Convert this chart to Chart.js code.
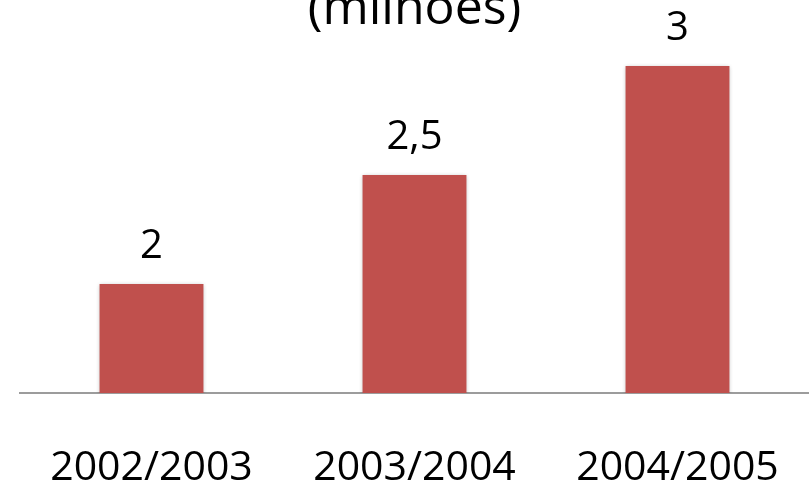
<!DOCTYPE html>
<html>
<head>
<meta charset="utf-8">
<script src="https://cdn.jsdelivr.net/npm/chart.js@4/dist/chart.umd.min.js"></script>
<style>
  html, body { margin: 0; padding: 0; background: #ffffff; overflow: hidden; }
  #wrap { position: absolute; left: 0; top: -40px; width: 809px; height: 530px; }
</style>
</head>
<body>
<div id="wrap"><canvas id="chart" width="809" height="530"></canvas></div>
<script>
// Safras e valores (em milhões)
const categories = ['2002/2003', '2003/2004', '2004/2005'];
const values = [2, 2.5, 3];
const titleText = '(milhões)';

const FONT = "'Open Sans', 'DejaVu Sans', sans-serif";

// Rótulos de valor acima de cada barra, com vírgula decimal
const valueLabels = {
  id: 'valueLabels',
  afterDatasetsDraw(chart) {
    const ctx = chart.ctx;
    const meta = chart.getDatasetMeta(0);
    ctx.save();
    ctx.font = '40px ' + FONT;
    ctx.fillStyle = '#000000';
    ctx.textAlign = 'center';
    ctx.textBaseline = 'alphabetic';
    meta.data.forEach((bar, i) => {
      const txt = String(values[i]).replace('.', ',');
      ctx.fillText(txt, bar.x, bar.y - 26);
    });
    ctx.restore();
  }
};

// Sombra suave sob as barras
const barShadow = {
  id: 'barShadow',
  beforeDatasetsDraw(chart) {
    const ctx = chart.ctx;
    ctx.save();
    ctx.shadowColor = 'rgba(0,0,0,0.28)';
    ctx.shadowBlur = 4;
    ctx.shadowOffsetX = 0;
    ctx.shadowOffsetY = 1;
  },
  afterDatasetsDraw(chart) {
    chart.ctx.restore();
  }
};

new Chart(document.getElementById('chart'), {
  type: 'bar',
  data: {
    labels: categories,
    datasets: [{
      data: values,
      backgroundColor: '#C0504D',
      borderWidth: 0,
      categoryPercentage: 1,
      barPercentage: 0.395
    }]
  },
  options: {
    responsive: false,
    animation: false,
    layout: { padding: { left: 20, right: 0, top: 0, bottom: 0 } },
    plugins: {
      legend: { display: false },
      tooltip: { enabled: false },
      title: {
        display: true,
        text: titleText,
        color: '#000000',
        font: { family: FONT, size: 50, weight: 'normal', lineHeight: 1 },
        padding: { top: 25, bottom: 0 }
      }
    },
    scales: {
      x: {
        grid: { display: false, drawTicks: false },
        border: { display: true, color: '#9c9c9c', width: 2 },
        ticks: {
          color: '#000000',
          font: { family: FONT, size: 41 },
          padding: 51,
          maxRotation: 0
        },
        afterFit(scale) {
          scale.height = 97;
          scale.paddingLeft = 0;
          scale.paddingRight = 0;
        }
      },
      y: {
        display: false,
        min: 1.5,
        max: 3.142
      }
    }
  },
  plugins: [barShadow, valueLabels]
});
</script>
</body>
</html>
